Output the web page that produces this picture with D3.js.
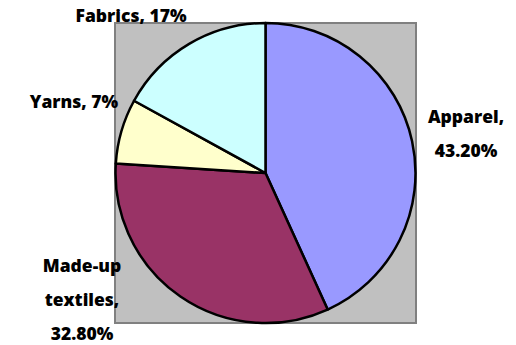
<!DOCTYPE html>
<html>
<head>
<meta charset="utf-8">
<script src="https://cdn.jsdelivr.net/npm/d3@7"></script>
<style>
  html, body { margin: 0; padding: 0; background: #fff; }
  svg { display: block; }
  .lbl { font-family: "Open Sans", Lato, sans-serif; font-weight: 800; font-size: 17.5px; fill: #000; }
</style>
</head>
<body>
<svg id="chart" width="516" height="345"></svg>
<script>
// Export share by product segment
const categories = ["Apparel", "Made-up textiles", "Yarns", "Fabrics"];
const shares = [43.2, 32.8, 7, 17];
const valueLabels = ["43.20%", "32.80%", "7%", "17%"];
const colors = ["#9999FF", "#993366", "#FFFFCC", "#CCFFFF"];

const svg = d3.select("#chart");

// Plot area
const plot = { x: 115, y: 23, w: 301, h: 300 };
svg.append("rect")
  .attr("x", plot.x).attr("y", plot.y)
  .attr("width", plot.w).attr("height", plot.h)
  .attr("fill", "#C0C0C0")
  .attr("stroke", "#808080")
  .attr("stroke-width", 2);

const cx = plot.x + plot.w / 2;
const cy = plot.y + plot.h / 2;
const radius = 150;

const pie = d3.pie().sort(null).value(d => d.v);
const arc = d3.arc().innerRadius(0).outerRadius(radius);

const data = categories.map((c, i) => ({ c, v: shares[i], t: valueLabels[i], col: colors[i] }));
const arcs = pie(data);

const g = svg.append("g").attr("transform", `translate(${cx},${cy})`);
g.selectAll("path")
  .data(arcs)
  .join("path")
  .attr("d", arc)
  .attr("fill", d => d.data.col)
  .attr("stroke", "#000")
  .attr("stroke-width", 2.5)
  .attr("stroke-linejoin", "round");

// Label placement (text lines, anchor x, first baseline) per slice
const labelLayout = [
  { lines: ["Apparel,", "43.20%"], x: 466, y: 123 },
  { lines: ["Made-up", "textiles,", "32.80%"], x: 82, y: 272 },
  { lines: ["Yarns, 7%"], x: 74, y: 108 },
  { lines: ["Fabrics, 17%"], x: 131, y: 22 }
];
const lineStep = 34;

arcs.forEach((a, i) => {
  const L = labelLayout[i];
  const t = svg.append("text")
    .attr("class", "lbl")
    .attr("text-anchor", "middle")
    .attr("x", L.x).attr("y", L.y);
  L.lines.forEach((ln, j) => {
    t.append("tspan")
      .attr("x", L.x)
      .attr("y", L.y + j * lineStep)
      .text(ln);
  });
});
</script>
</body>
</html>
